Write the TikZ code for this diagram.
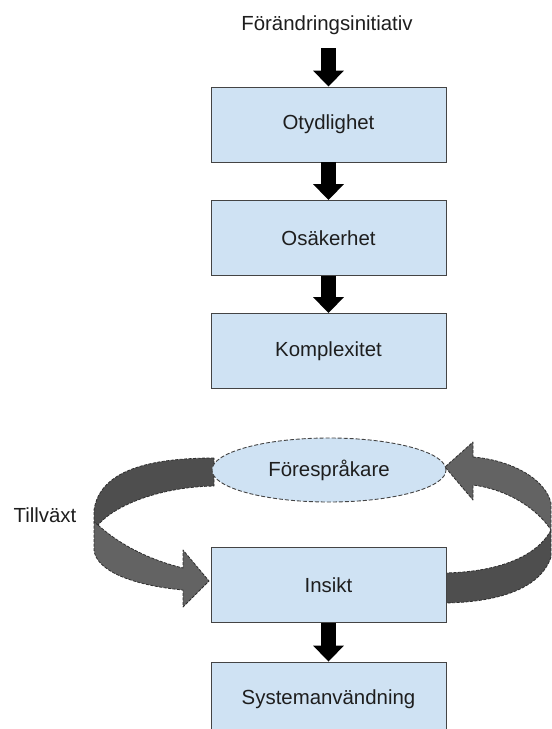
\documentclass[tikz,border=0pt]{standalone}
\usepackage{fontspec}
\setmainfont{Liberation Sans}
\usetikzlibrary{arrows.meta,shapes.geometric}

\definecolor{boxfill}{HTML}{CFE2F3}
\definecolor{boxline}{HTML}{444444}
\definecolor{ribbondark}{HTML}{4E4E4E}
\definecolor{ribbonlight}{HTML}{636363}
\definecolor{ribbonline}{HTML}{2E2E2E}
\definecolor{textcol}{HTML}{1E1E1E}

\tikzset{
  stagebox/.style={draw=boxline, line width=0.9pt, fill=boxfill,
    minimum width=235pt, minimum height=75pt, inner sep=0pt,
    text=textcol, font=\fontsize{20.4}{24}\selectfont},
  actorbubble/.style={ellipse, draw=boxline, line width=0.9pt, fill=boxfill,
    dash pattern=on 4pt off 2pt,
    minimum width=234pt, minimum height=64pt, inner sep=0pt,
    text=textcol, font=\fontsize{20.4}{24}\selectfont},
  caption/.style={text=textcol, inner sep=0pt, font=\fontsize{20.4}{24}\selectfont},
  blockarrow/.style={draw=black, line width=15pt,
    -{Triangle[width=30pt,length=16pt]}},
  ribbon/.style={draw=ribbonline, line width=0.8pt, dash pattern=on 3pt off 1.5pt,
    line join=round}
}

\begin{document}
\begin{tikzpicture}[x=1pt,y=-1pt]
\clip (0,0) rectangle (552,729);
\fill[white] (0,0) rectangle (552,729);

% growth loop: left ribbon, from the advocates down into insight
\filldraw[ribbon, fill=ribbondark]
  (214,458) .. controls (150,458) and (100,470) .. (94,510)
  -- (94,522) -- (98,525)
  .. controls (115,505) and (160,487) .. (214,486) -- cycle;
\filldraw[ribbon, fill=ribbonlight]
  (98,525) .. controls (120,545) and (150,560) .. (183,568)
  -- (183,550) -- (209,581) -- (183,607) -- (183,590)
  .. controls (130,585) and (96,570) .. (94,550)
  -- (94,522) -- cycle;

% growth loop: right ribbon, from insight back up to the advocates
\filldraw[ribbon, fill=ribbondark]
  (551,530) .. controls (535,560) and (490,573) .. (440,573)
  -- (440,603) .. controls (495,603) and (540,590) .. (551,557) -- cycle;
\filldraw[ribbon, fill=ribbonlight]
  (473,457) .. controls (510,460) and (545,478) .. (551,503)
  -- (551,530) .. controls (538,510) and (510,490) .. (473,485)
  -- (473,500) -- (445,467) -- (473,442) -- cycle;

% labels
\node[caption] (init) at (327,25) {Förändringsinitiativ};
\node[caption] (growth) at (45,515) {Tillväxt};
\coordinate (initfoot) at (328.5,48);

% stages
\node[stagebox] (otyd) at (328.5,124.5) {Otydlighet};
\node[stagebox] (osak) at (328.5,238) {Osäkerhet};
\node[stagebox] (komp) at (328.5,351) {Komplexitet};
\node[actorbubble] (fore) at (329,470) {Förespråkare};
\node[stagebox] (insikt) at (328.5,585) {Insikt};
\node[stagebox] (sys) at (328.5,699.5) {Systemanvändning};

% flow arrows
\draw[blockarrow] (initfoot) -- (otyd.north);
\draw[blockarrow] (otyd.south) -- (osak.north);
\draw[blockarrow] (osak.south) -- (komp.north);
\draw[blockarrow] (insikt.south) -- (sys.north);
\end{tikzpicture}
\end{document}
